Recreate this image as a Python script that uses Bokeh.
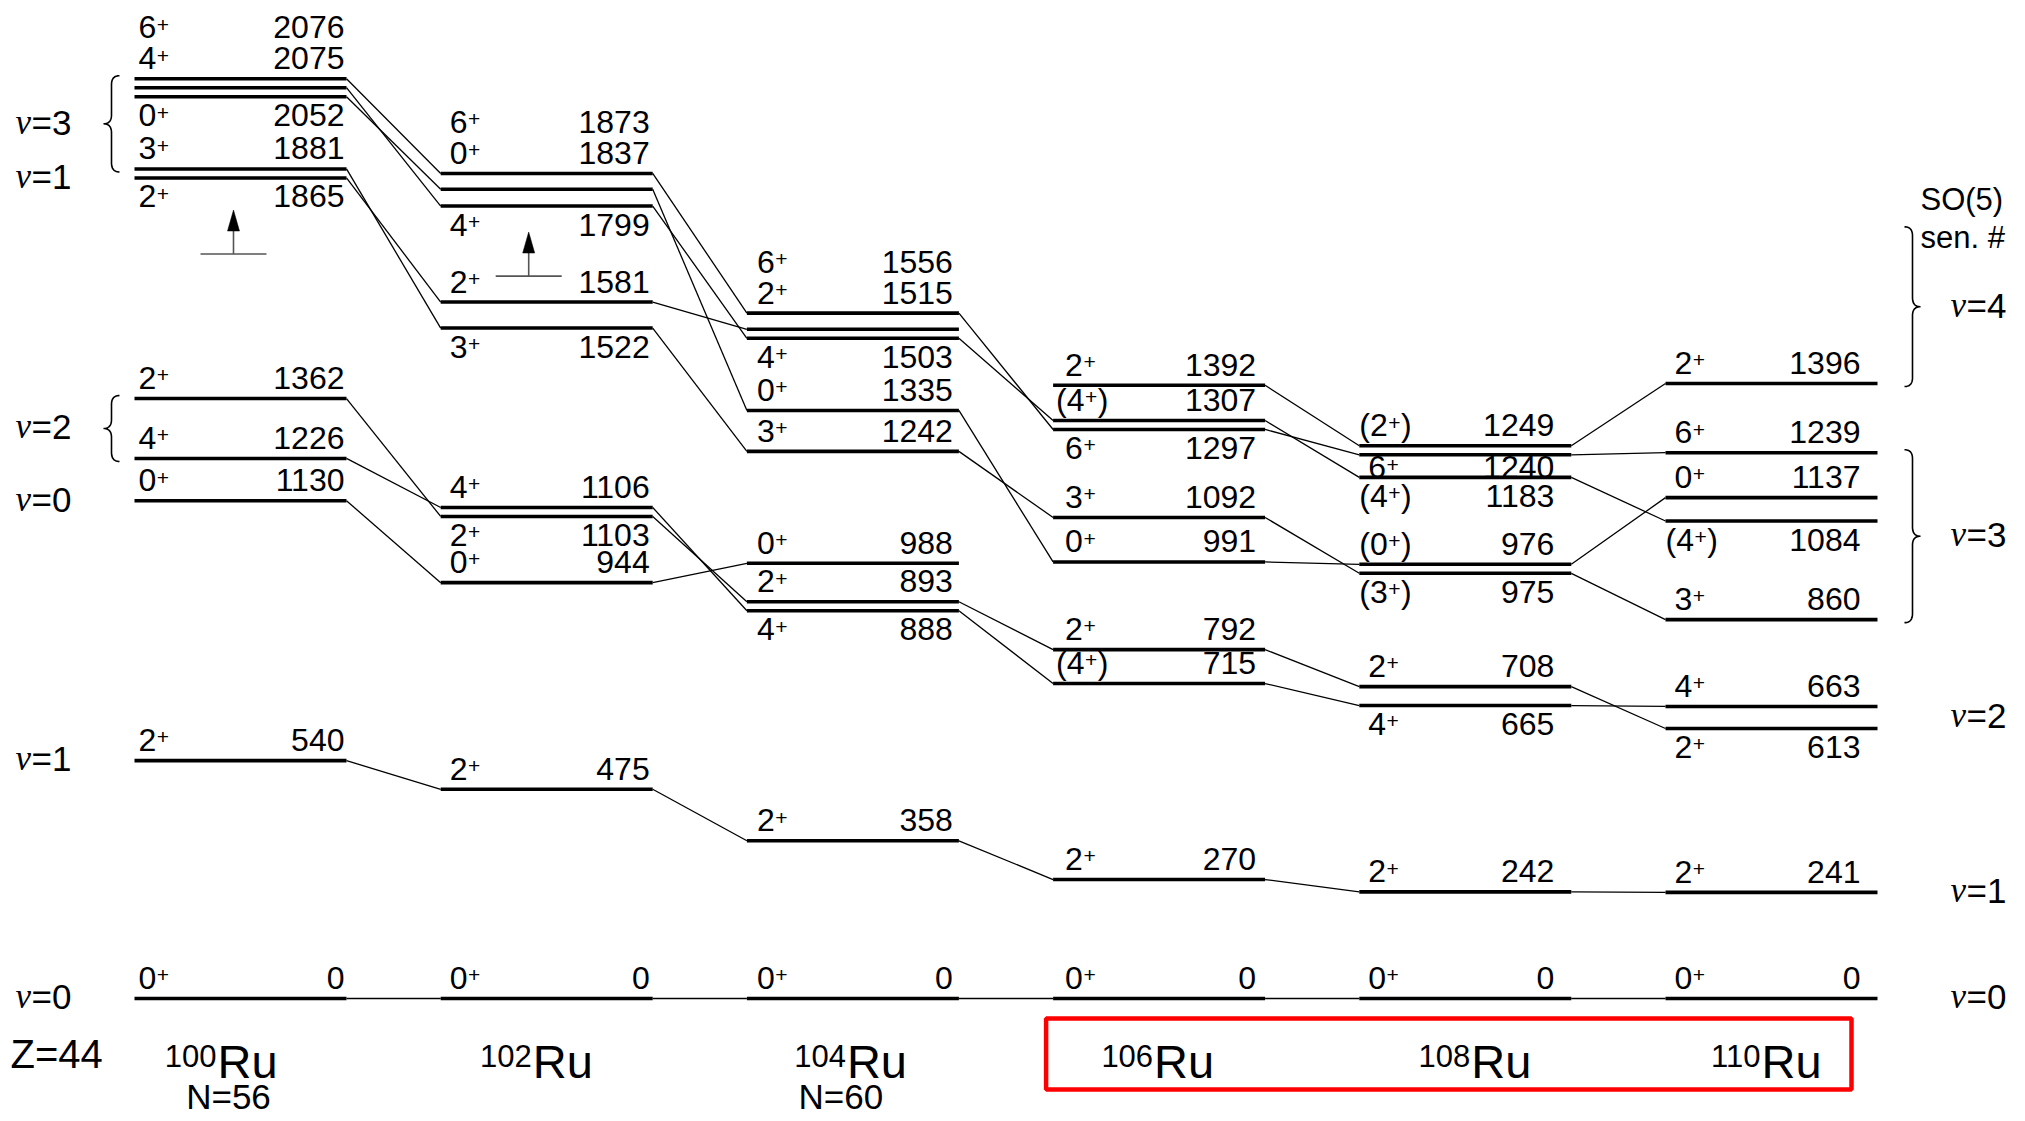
import numpy as np
from bokeh.plotting import figure
from bokeh.models import Range1d, ColumnDataSource
from bokeh.core.properties import value
from bokeh.embed import file_html
from bokeh.resources import INLINE

# ---------------- data ----------------
mass_numbers = ["100", "102", "104", "106", "108", "110"]
element = "Ru"
proton_label = "Z=44"
neutron_cols = [0, 2]
neutron_texts = ["N=56", "N=60"]

levels_100 = [0, 540, 1130, 1226, 1362, 1865, 1881, 2052, 2075, 2076]
spins_100 = ["0+", "2+", "0+", "4+", "2+", "2+", "3+", "0+", "4+", "6+"]
place_100 = ["a", "a", "a", "a", "a", "b", "a", "b", "u", "A"]

levels_102 = [0, 475, 944, 1103, 1106, 1522, 1581, 1799, 1837, 1873]
spins_102 = ["0+", "2+", "0+", "2+", "4+", "3+", "2+", "4+", "0+", "6+"]
place_102 = ["a", "a", "a", "b", "a", "b", "a", "b", "u", "A"]

levels_104 = [0, 358, 888, 893, 988, 1242, 1335, 1503, 1515, 1556]
spins_104 = ["0+", "2+", "4+", "2+", "0+", "3+", "0+", "4+", "2+", "6+"]
place_104 = ["a", "a", "b", "a", "a", "a", "a", "b", "u", "A"]

levels_106 = [0, 270, 715, 792, 991, 1092, 1297, 1307, 1392]
spins_106 = ["0+", "2+", "(4+)", "2+", "0+", "3+", "6+", "(4+)", "2+"]
place_106 = ["a", "a", "a", "a", "a", "a", "b", "a", "a"]

levels_108 = [0, 242, 665, 708, 975, 976, 1183, 1240, 1249]
spins_108 = ["0+", "2+", "4+", "2+", "(3+)", "(0+)", "(4+)", "6+", "(2+)"]
place_108 = ["a", "a", "b", "a", "b", "a", "b", "c", "a"]

levels_110 = [0, 241, 613, 663, 860, 1084, 1137, 1239, 1396]
spins_110 = ["0+", "2+", "2+", "4+", "3+", "(4+)", "0+", "6+", "2+"]
place_110 = ["a", "a", "b", "a", "a", "b", "a", "a", "a"]

links_100_102 = [(0, 0), (540, 475), (1130, 944), (1226, 1106), (1362, 1103),
                 (1865, 1581), (1881, 1522), (2052, 1837), (2075, 1799), (2076, 1873)]
links_102_104 = [(0, 0), (475, 358), (944, 988), (1103, 893), (1106, 888),
                 (1522, 1242), (1581, 1515), (1799, 1503), (1837, 1335), (1873, 1556)]
links_104_106 = [(0, 0), (358, 270), (888, 715), (893, 792), (1242, 1092),
                 (1335, 991), (1503, 1307), (1556, 1297)]
links_106_108 = [(0, 0), (270, 242), (715, 665), (792, 708), (991, 976),
                 (1092, 975), (1297, 1240), (1307, 1183), (1392, 1249)]
links_108_110 = [(0, 0), (242, 241), (665, 663), (708, 613), (975, 860),
                 (976, 1137), (1183, 1084), (1240, 1239), (1249, 1396)]

# seniority groups (left: 100Ru, right: 110Ru)
left_groups = [("3", [1881, 2052, 2075, 2076], True), ("1", [1865], False),
               ("2", [1226, 1362], True), ("0", [1130], False),
               ("1", [540], False), ("0", [0], False)]
right_groups = [("4", [1396], True), ("3", [860, 1084, 1137, 1239], True),
                ("2", [613, 663], False), ("1", [241], False), ("0", [0], False)]
v4_brace_top = 1745          # keV, upper end of the v=4 bracket
right_header = ["SO(5)", "sen. #"]

arrow_cols = [0, 1]
arrow_base = [1690, 1640]
arrow_tip = [1790, 1740]

all_levels = [levels_100, levels_102, levels_104, levels_106, levels_108, levels_110]
all_spins = [spins_100, spins_102, spins_104, spins_106, spins_108, spins_110]
all_place = [place_100, place_102, place_104, place_106, place_108, place_110]
all_links = [links_100_102, links_102_104, links_104_106, links_106_108, links_108_110]

# ---------------- layout ----------------
W, H = 2022, 1118
PX_X = 306.2      # px per column
PX_Y = 0.4405     # px per keV
X0_PX = 240.0     # page x of column 0 centre
Y0_PX = 998.0     # page y of E = 0
HW = 106.0 / PX_X  # half bar width (columns)
GAP = 9.0 / PX_Y   # minimal separation of close levels (keV)
BASE_FIX = 0.39    # em correction of text baseline placement
SPIN_DX = [4, 9, 10, 12, 9, 9]        # px inset of spin labels per column
SPIN_DX_PAREN = [2, 2, 2, 3, 0, 0]
E_DX = [2, 3, 6, 9, 17, 17]           # px inset of energy labels per column
ISO_DX = [-24, -15, -7, -6, 5, -11]   # px shift of isotope names

def xd(px):   # canvas px -> data x
    return (px - X0_PX) / PX_X

def yd(py):   # canvas py -> data y
    return (Y0_PX - py) / PX_Y

def ypx(e):
    return Y0_PX - e * PX_Y

def xpx(x):
    return X0_PX + x * PX_X

def spread(energies, gap):
    order = sorted(range(len(energies)), key=lambda k: energies[k])
    blocks = []
    for k in order:
        blocks.append([k])
        while len(blocks) > 1:
            a, b = blocks[-2], blocks[-1]
            ca = np.mean([energies[j] for j in a])
            cb = np.mean([energies[j] for j in b])
            if (cb - (len(b) - 1) / 2 * gap) - (ca + (len(a) - 1) / 2 * gap) < gap:
                blocks[-2:] = [a + b]
            else:
                break
    pos = [0.0] * len(energies)
    for b in blocks:
        c = np.mean([energies[j] for j in b])
        n = len(b)
        for r, j in enumerate(b):
            pos[j] = c + (r - (n - 1) / 2) * gap
    return pos

disp = [dict(zip(lv, spread(lv, GAP))) for lv in all_levels]

p = figure(width=W, height=H, output_backend="svg", toolbar_location=None,
           x_range=Range1d(xd(0), xd(W)), y_range=Range1d(yd(H), yd(0)),
           min_border=0)
p.axis.visible = False
p.grid.visible = False
p.outline_line_color = None
p.background_fill_color = "white"
p.border_fill_color = "white"

# ---------------- levels ----------------
bx0, bx1, by = [], [], []
for i, lv in enumerate(all_levels):
    for e in lv:
        bx0.append(i - HW); bx1.append(i + HW); by.append(disp[i][e])
p.segment(x0=bx0, y0=by, x1=bx1, y1=by, line_width=3.6, line_color="black", line_cap="butt")

# ---------------- links ----------------
lx0, ly0, lx1, ly1 = [], [], [], []
for i, links in enumerate(all_links):
    for ea, eb in links:
        lx0.append(i + HW); ly0.append(disp[i][ea])
        lx1.append(i + 1 - HW); ly1.append(disp[i + 1][eb])
p.segment(x0=lx0, y0=ly0, x1=lx1, y1=ly1, line_width=1.3, line_color="black")

# ---------------- texts ----------------
texts = {}
def add_text(x_px, base_py, t, font="Liberation Sans", size=32, align="left", style="normal"):
    d = texts.setdefault((font, size, align, style), dict(x=[], y=[], t=[]))
    d["x"].append(xd(x_px)); d["y"].append(yd(base_py - BASE_FIX * size)); d["t"].append(t)

FS, FS_SUP, RAISE = 32, 21, 7
ADV = {"(": 0.333, ")": 0.333, "+": 0.584}
def width(s, fs):
    return sum(ADV.get(ch, 0.556) for ch in s) * fs

for i, lv in enumerate(all_levels):
    for k, e in enumerate(lv):
        line = ypx(disp[i][e])
        pl = all_place[i][k]
        if pl == "a":
            base = line - 8
        elif pl == "b":
            base = line + 31
        elif pl == "c":      # squeezed below its line
            base = line + 25
        elif pl == "A":
            base = line - 39
        else:  # above the next higher level
            higher = sorted(x for x in lv if x > e)[0]
            base = ypx(disp[i][higher]) - 8
        s = all_spins[i][k]
        pre, post = s.split("+")
        x0 = xpx(i - HW) + (SPIN_DX_PAREN[i] if s.startswith("(") else SPIN_DX[i])
        add_text(x0, base, pre, size=FS)
        xs = x0 + width(pre, FS) + 0.5
        add_text(xs, base - RAISE, "+", size=FS_SUP)
        if post:
            add_text(xs + width("+", FS_SUP) + 0.5, base, post, size=FS)
        add_text(xpx(i + HW) - E_DX[i], base, str(e), size=FS, align="right")

# isotope names
for i, a in enumerate(mass_numbers):
    j = xpx(i) + ISO_DX[i]
    add_text(j, 1068, a, size=31, align="right")
    add_text(j + 1, 1079, element, size=47)
add_text(10, 1069, proton_label, size=40)
for c, t in zip(neutron_cols, neutron_texts):
    add_text(xpx(c) - 12, 1110, t, size=35, align="center")

# seniority labels
def brace(xs_px, top_py, bot_py, direction, w=8, r=9):
    ym = (top_py + bot_py) / 2
    xe = xs_px - direction * w
    xt = xs_px + direction * w
    def quad(p0, p1, p2, n=14):
        t = np.linspace(0, 1, n)
        return [((1 - u) ** 2 * p0[0] + 2 * (1 - u) * u * p1[0] + u ** 2 * p2[0],
                 (1 - u) ** 2 * p0[1] + 2 * (1 - u) * u * p1[1] + u ** 2 * p2[1]) for u in t]
    pts = []
    pts += quad((xe, top_py), (xs_px, top_py), (xs_px, top_py + r))
    pts += quad((xs_px, ym - r), (xs_px, ym), (xt, ym))
    pts += quad((xt, ym), (xs_px, ym), (xs_px, ym + r))
    pts += quad((xs_px, bot_py - r), (xs_px, bot_py), (xe, bot_py))
    return [xd(q[0]) for q in pts], [yd(q[1]) for q in pts]

def v_label(x_left_px, center_py, n):
    base = center_py + 12
    add_text(x_left_px, base, "v", font="Liberation Serif", size=35, style="italic")
    add_text(x_left_px + 16, base, "=" + n, size=35)

bxs, bys = [], []
left_x = xpx(0 - HW)
for n, grp, has_brace in left_groups:
    ys = [ypx(disp[0][e]) for e in grp]
    top, bot = min(ys), max(ys)
    v_label(15, (top + bot) / 2, n)
    if has_brace:
        bx, byy = brace(left_x - 23, top - 3, bot + 3, -1)
        bxs.append(bx); bys.append(byy)

right_x = xpx(5 + HW)
for n, grp, has_brace in right_groups:
    ys = [ypx(disp[5][e]) for e in grp]
    top, bot = min(ys), max(ys)
    if n == "4":
        top = ypx(v4_brace_top)
    v_label(1950, (top + bot) / 2, n)
    if has_brace:
        bx, byy = brace(right_x + 35, top - 3, bot + 3, 1)
        bxs.append(bx); bys.append(byy)
p.multi_line(xs=bxs, ys=bys, line_color="black", line_width=1.6)

add_text(1920, 211, right_header[0], size=31)
add_text(1920, 249, right_header[1], size=31)

for (font, size, align, style), d in texts.items():
    p.text(x="x", y="y", text="t", source=ColumnDataSource(d),
           text_font=value(font), text_font_size=f"{size}px", text_align=align,
           text_baseline="alphabetic", text_font_style=style, text_color="black")

# ---------------- arrows ----------------
arrow_dx = [-7, -18]
for c, b, t, dx in zip(arrow_cols, arrow_base, arrow_tip, arrow_dx):
    ax = xpx(c) + dx
    bpy, tpy = ypx(b), ypx(t)
    p.segment(x0=[xd(ax - 33)], y0=[yd(bpy)], x1=[xd(ax + 33)], y1=[yd(bpy)],
              line_color="#555555", line_width=1.6)
    p.segment(x0=[xd(ax)], y0=[yd(bpy)], x1=[xd(ax)], y1=[yd(tpy + 18)],
              line_color="#555555", line_width=1.6)
    p.patch(x=[xd(ax - 6), xd(ax + 6), xd(ax)], y=[yd(tpy + 21), yd(tpy + 21), yd(tpy)],
            fill_color="black", line_color="black", line_width=0.5)

# ---------------- red box ----------------
bl = xpx(3 - HW) - 7
br = xpx(5 + HW) - 26
p.quad(left=[xd(bl)], right=[xd(br)], top=[yd(1018)], bottom=[yd(1089)],
       fill_color=None, line_color="#ff0000", line_width=4.5)

open("out.html", "w").write(file_html(p, INLINE))
